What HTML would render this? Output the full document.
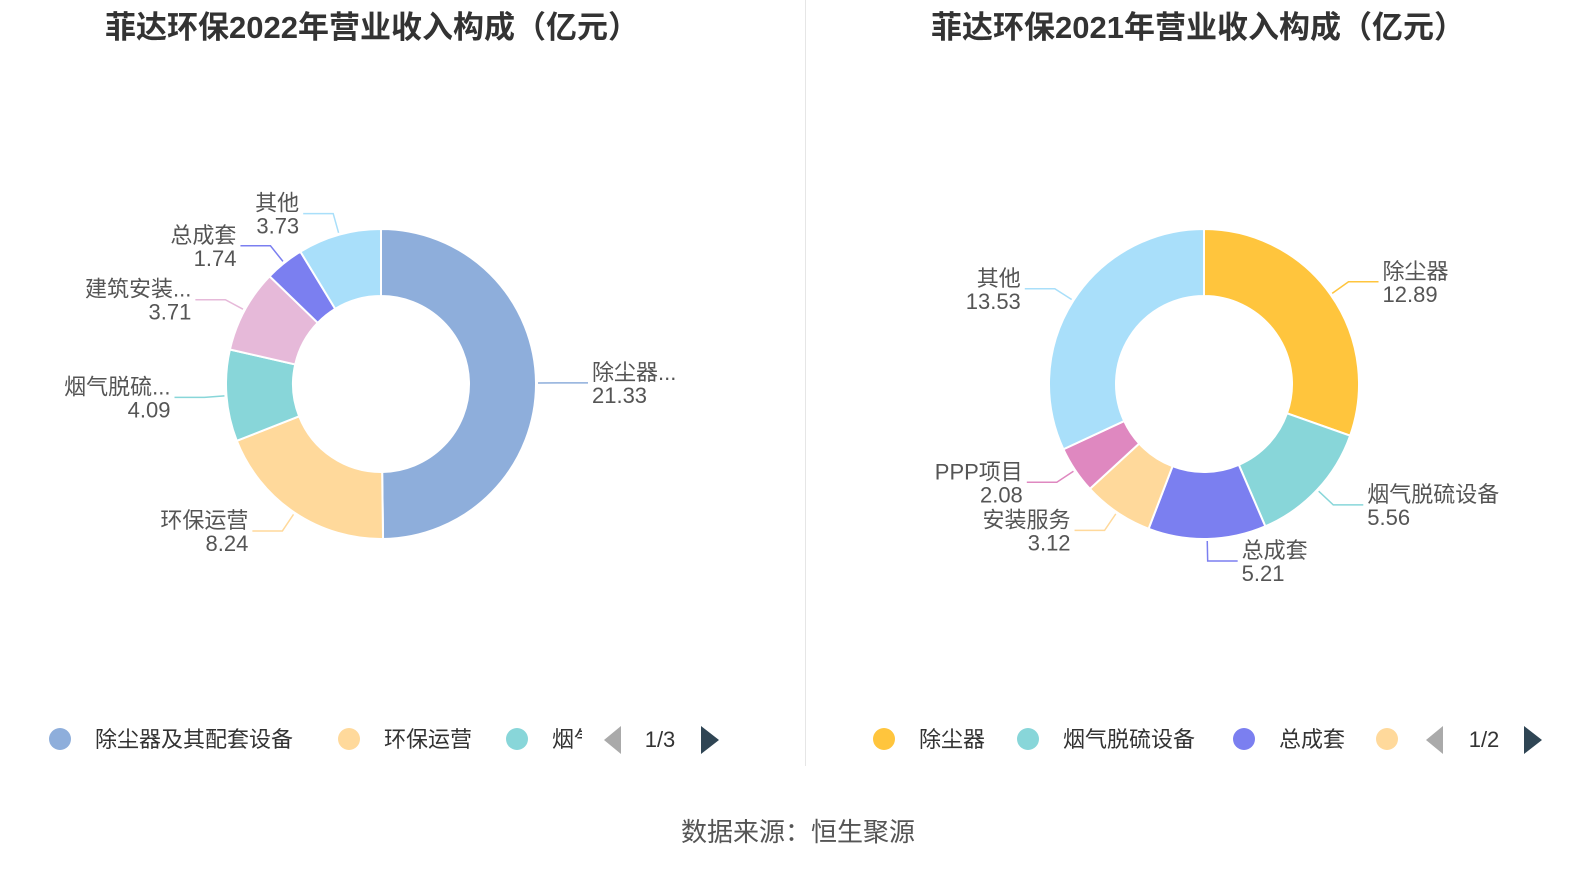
<!DOCTYPE html>
<html><head><meta charset="utf-8">
<style>
body{margin:0;width:1590px;height:866px;background:#fff;overflow:hidden;font-family:"Liberation Sans","Noto Sans CJK SC",sans-serif;}
svg text{font-family:"Liberation Sans","Noto Sans CJK SC",sans-serif;}
</style></head><body>
<svg id="c" width="1590" height="866">
<text x="372" y="38" text-anchor="middle" font-size="31" font-weight="bold" fill="#333">菲达环保2022年营业收入构成（亿元）</text>
<text x="1198" y="38" text-anchor="middle" font-size="31" font-weight="bold" fill="#333">菲达环保2021年营业收入构成（亿元）</text>
<line x1="805.5" y1="0" x2="805.5" y2="766" stroke="#e6e6e6"/>
<g id="left"></g>
<g id="right"></g>
<g font-size="22" fill="#333">
<circle cx="60" cy="739" r="11" fill="#8eaedb"/>
<text x="95" y="747">除尘器及其配套设备</text>
<circle cx="349" cy="739" r="11" fill="#ffd99b"/>
<text x="384" y="747">环保运营</text>
<circle cx="517" cy="739" r="11" fill="#88d6d9"/>
<svg x="550" y="715" width="32" height="40"><text x="2" y="32" font-size="22" fill="#333">烟气</text></svg>
<polygon points="621,726 621,754 604,740" fill="#aaa"/>
<text x="660" y="747" text-anchor="middle">1/3</text>
<polygon points="701,726 701,754 719,740" fill="#2f4554"/>
</g>
<g font-size="22" fill="#333">
<circle cx="884" cy="739" r="11" fill="#ffc53d"/>
<text x="919" y="747">除尘器</text>
<circle cx="1028" cy="739" r="11" fill="#88d6d9"/>
<text x="1063" y="747">烟气脱硫设备</text>
<circle cx="1244" cy="739" r="11" fill="#7b7ff0"/>
<text x="1279" y="747">总成套</text>
<circle cx="1387" cy="739" r="11" fill="#ffd99b"/>
<polygon points="1443,726 1443,754 1426,740" fill="#aaa"/>
<text x="1484" y="747" text-anchor="middle">1/2</text>
<polygon points="1524,726 1524,754 1542,740" fill="#2f4554"/>
</g>
<text x="798" y="841" text-anchor="middle" font-size="26" fill="#555">数据来源：恒生聚源</text>
</svg>
<script>
const leftNames=["除尘器...","环保运营","烟气脱硫...","建筑安装...","总成套","其他"];
const leftValues=[21.33,8.24,4.09,3.71,1.74,3.73];
const leftColors=["#8eaedb","#ffd99b","#88d6d9","#e6b9d9","#7b7ff0","#a9dffa"];
const rightNames=["除尘器","烟气脱硫设备","总成套","安装服务","PPP项目","其他"];
const rightValues=[12.89,5.56,5.21,3.12,2.08,13.53];
const rightColors=["#ffc53d","#88d6d9","#7b7ff0","#ffd99b","#df88c0","#a9dffa"];
const NS="http://www.w3.org/2000/svg";
function draw(gid,cx,cy,names,values,colors){
  const g=document.getElementById(gid);
  const R=155,r=88;
  const total=values.reduce((a,b)=>a+b,0);
  let acc=0;
  const pt=(a,rad)=>[cx+rad*Math.sin(a),cy-rad*Math.cos(a)];
  values.forEach((v,i)=>{
    const a0=acc/total*2*Math.PI; acc+=v; const a1=acc/total*2*Math.PI;
    const large=(a1-a0)>Math.PI?1:0;
    const p0=pt(a0,R),p1=pt(a1,R),q1=pt(a1,r),q0=pt(a0,r);
    const p=document.createElementNS(NS,"path");
    p.setAttribute("d",`M${p0[0]},${p0[1]}A${R},${R} 0 ${large} 1 ${p1[0]},${p1[1]}L${q1[0]},${q1[1]}A${r},${r} 0 ${large} 0 ${q0[0]},${q0[1]}Z`);
    p.setAttribute("fill",colors[i]);p.setAttribute("stroke","#fff");p.setAttribute("stroke-width","2");
    
    
    g.appendChild(p);
    const am=(a0+a1)/2;
    const s=pt(am,R+2),b=pt(am,R+22);
    const dir=Math.sin(am)>=0?1:-1;
    const e=[b[0]+dir*30,b[1]];
    const l=document.createElementNS(NS,"polyline");
    l.setAttribute("points",`${s[0]},${s[1]} ${b[0]},${b[1]} ${e[0]},${e[1]}`);
    l.setAttribute("fill","none");l.setAttribute("stroke",colors[i]);l.setAttribute("stroke-width","1.5");
    
    
    g.appendChild(l);
    const anchor=dir>0?"start":"end";
    const tx=e[0]+dir*4;
    const t1=document.createElementNS(NS,"text");
    t1.setAttribute("x",tx);t1.setAttribute("y",e[1]-3);t1.setAttribute("text-anchor",anchor);
    t1.setAttribute("font-size","22");t1.setAttribute("fill","#555");t1.textContent=names[i];
    
    
    g.appendChild(t1);
    const t2=document.createElementNS(NS,"text");
    t2.setAttribute("x",tx);t2.setAttribute("y",e[1]+20);t2.setAttribute("text-anchor",anchor);
    t2.setAttribute("font-size","22");t2.setAttribute("fill","#555");t2.textContent=values[i].toFixed(2);
    
    
    g.appendChild(t2);
  });
}
draw("left",381,384,leftNames,leftValues,leftColors);
draw("right",1204,384,rightNames,rightValues,rightColors);
</script>
</body></html>
